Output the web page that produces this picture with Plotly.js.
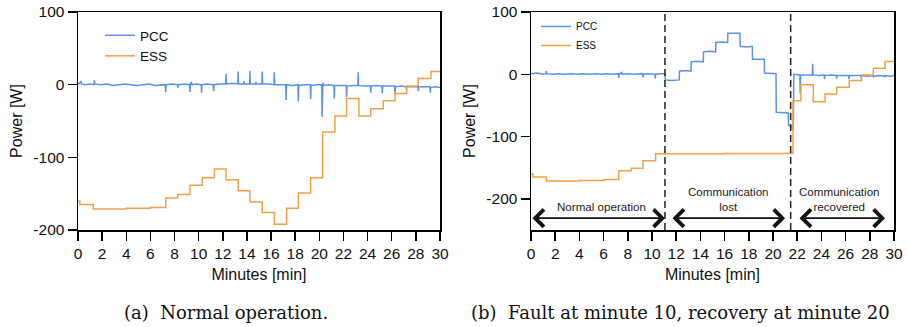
<!DOCTYPE html>
<html><head><meta charset="utf-8">
<script src="https://cdn.plot.ly/plotly-3.0.1.min.js"></script>
<style>html,body{margin:0;padding:0;background:#fff}#chart{width:907px;height:327px}</style>
</head><body><div id="chart"></div>
<script>
// ---------- data (minutes, watts) ----------
const xTicks = [0,2,4,6,8,10,12,14,16,18,20,22,24,26,28,30];
const yTicksA = [-200,-100,0,100];
const yTicksB = [-200,-100,0,100];
const seriesNames = ['PCC','ESS'];

// (a) Normal operation
const pccA = [[0,2],[0.1,1],[0.25,5],[0.3,1],[0.6,0],[1.0,1],[1.33,0],[1.36,6],[1.4,1],[1.9,0],[2.4,1],[2.9,-1],[3.4,0],[3.9,1],[4.4,0],[4.9,-1],[5.4,0],[5.9,1],[6.4,-1],[6.9,0],[7.24,0],[7.27,-10],[7.3,0],[7.8,1],[8.26,0],[8.28,-4],[8.31,0],[8.8,1],[9.25,0],[9.28,-10],[9.31,1],[9.4,4],[9.44,0],[9.8,1],[10.21,0],[10.24,-11],[10.27,0],[10.7,1],[11.22,0],[11.25,-9],[11.28,0],[11.8,1],[12.24,1],[12.27,15],[12.3,1],[12.8,2],[13.24,1],[13.27,18],[13.3,1],[13.72,1],[13.75,5],[13.78,1],[14.22,1],[14.25,19],[14.28,1],[14.72,1],[14.75,4],[14.78,1],[15.24,1],[15.27,18],[15.3,1],[15.8,1],[16.24,0],[16.27,17],[16.3,0],[16.8,0],[17.22,0],[17.25,-21],[17.28,0],[17.8,-1],[18.23,0],[18.26,-23],[18.29,-1],[18.8,0],[19.25,0],[19.28,-20],[19.31,-1],[19.8,0],[20.2,0],[20.23,-44],[20.26,-1],[20.3,3],[20.33,-1],[20.8,0],[21.21,-1],[21.24,-19],[21.27,-1],[21.8,-1],[22.23,-1],[22.26,-17],[22.29,-2],[22.8,-1],[23.19,-1],[23.22,17],[23.25,-1],[23.7,-2],[24.23,-2],[24.26,-11],[24.29,-2],[24.7,-1],[25.19,-2],[25.22,-12],[25.25,-2],[25.7,-2],[26.24,-2],[26.27,-14],[26.3,-3],[26.8,-2],[27.19,-3],[27.22,-6],[27.25,-3],[27.7,-3],[28.17,-3],[28.2,-9],[28.23,-3],[28.7,-3],[29.17,-3],[29.2,-11],[29.23,-4],[29.6,-3],[30,-4]];
const essA = [[0,-160],[0.15,-165],[1.27,-171],[4,-170],[6,-169],[7.27,-156],[8.27,-151],[9.28,-138.5],[10.3,-128],[11.3,-116],[12.27,-131],[13.28,-146],[14.25,-161.5],[15.27,-176],[16.27,-192],[17.29,-170],[18.26,-149],[19.28,-128],[20.28,-65],[21.29,-43],[22.26,-19],[23.28,-43],[24.26,-33],[25.3,-22],[26.27,-12],[27.24,-2],[28.2,8.5],[29.25,18],[30,18]];

// (b) Fault at minute 10, recovery at minute 20
const pccB = [[0,1],[0.5,2],[1.0,0],[1.24,1],[1.27,5],[1.3,1],[1.8,0],[2.3,1],[2.8,0],[3.3,1],[3.8,0],[4.3,1],[4.8,0],[5.3,1],[5.8,0],[6.3,1],[6.8,0],[7.22,1],[7.25,-6],[7.28,0],[7.5,3],[7.53,0],[8.0,1],[8.5,0],[9.23,1],[9.26,-5],[9.29,0],[9.7,1],[10.24,0],[10.27,-7],[10.3,0],[10.7,1],[11.07,1],[11.1,-9],[11.6,-10],[12.25,-9],[12.27,5],[12.8,6],[13.22,5],[13.24,20],[13.7,21],[14.24,20],[14.26,36],[14.8,37],[15.26,36],[15.28,51],[15.8,52],[16.25,51],[16.27,66],[16.8,66],[17.27,66],[17.29,45],[17.8,44],[18.29,45],[18.31,24],[18.8,24],[19.28,24],[19.3,2],[19.8,2],[20.25,1],[20.27,-61],[20.8,-62],[21.26,-62],[21.28,-82],[21.55,-84],[21.62,-89],[21.68,-86],[21.72,0],[22.22,-1],[22.25,-30],[22.28,-1],[22.8,-1],[23.25,-1],[23.28,17],[23.31,-1],[23.8,-2],[24.23,-1],[24.26,-8],[24.29,-2],[24.8,-1],[25.23,-2],[25.26,-7],[25.29,-2],[25.8,-2],[26.25,-2],[26.28,-8],[26.31,-2],[26.8,-2],[27.25,-2],[27.28,-6],[27.31,-2],[27.8,-3],[28.27,-2],[28.3,-5],[28.33,-3],[28.8,-2],[29.23,-3],[29.26,-5],[29.29,-2],[29.7,-3],[30,-2]];
const essB = [[0,-160],[0.15,-165],[1.27,-171.5],[4,-170.5],[6,-169],[7.25,-155],[8.29,-151],[9.26,-139],[10.3,-127.5],[16,-127],[21.65,-42.5],[22.31,-17],[23.33,-44],[24.3,-31.5],[25.26,-21],[26.3,-10],[27.32,-1],[28.29,9.5],[29.26,20.5],[30,20.5]];

const eventTimes = [11.07, 21.46];
const phaseLabels = ['Normal operation','Communication<br>lost','Communication<br>recovered'];
const phaseStart = [0, 11.57, 22.07];
const phaseEnd = [11.07, 21.0, 29.26];
const phaseLevel = -231;
const captions = ['(a)  Normal operation.','(b)  Fault at minute 10, recovery at minute 20'];

// ---------- styling ----------
const SANS = "Arial, 'Liberation Sans', sans-serif";
const SERIF = "'DejaVu Serif', serif";
const COL = {PCC:'#5b93f0', ESS:'#f5a047'};
const W = 907, H = 327;

function mk(pairs, name, xa, ya, lg, shape){
  return {x: pairs.map(p=>p[0]), y: pairs.map(p=>p[1]), name: name, type:'scatter', mode:'lines',
    xaxis: xa, yaxis: ya, legend: lg, line:{color: COL[name], width:1.5, shape: shape}, hoverinfo:'skip'};
}
const traces = [
  mk(pccA, seriesNames[0], 'x', 'y', 'legend', 'linear'),
  mk(essA, seriesNames[1], 'x', 'y', 'legend', 'hv'),
  mk(pccB, seriesNames[0], 'x2', 'y2', 'legend2', 'linear'),
  mk(essB, seriesNames[1], 'x2', 'y2', 'legend2', 'hv')
];

function xax(dom, anchor){
  return {domain: dom, anchor: anchor, range:[0,30], tickvals: xTicks, ticktext: xTicks.map(String),
    ticks:'outside', ticklen:9, tickwidth:1.5, tickcolor:'#000', showline:true, linecolor:'#000', linewidth:1.5,
    mirror:true, showgrid:false, zeroline:false, automargin:false, fixedrange:true,
    tickfont:{family:SANS, size:15.5, color:'#111'},
    title:{text:'Minutes [min]', font:{family:SANS, size:16, color:'#111'}, standoff:7}};
}
function yax(range, ticks, dom, anchor){
  return {domain: dom, anchor: anchor, range: range, tickvals: ticks, ticktext: ticks.map(String),
    ticks:'outside', ticklen:9, tickwidth:1.5, tickcolor:'#000', showline:true, linecolor:'#000', linewidth:1.5,
    mirror:true, showgrid:false, zeroline:false, automargin:false, fixedrange:true,
    tickfont:{family:SANS, size:15.5, color:'#111'},
    title:{text:'Power [W]', font:{family:SANS, size:16, color:'#111'}, standoff:7}};
}
const yDom = [1-230/H, 1-12/H];

const shapes = eventTimes.map(t => ({type:'line', xref:'x2', yref:'y2 domain', x0:t, x1:t, y0:0, y1:1,
  line:{color:'#222', width:1.5, dash:'7px,4px'}}));

const annotations = [];
phaseLabels.forEach((lab, i) => {
  annotations.push({xref:'x2', yref:'y2', x: phaseEnd[i], y: phaseLevel, ax: phaseStart[i], ay: phaseLevel,
    axref:'x2', ayref:'y2', text:'', showarrow:true, arrowside:'end+start', arrowhead:4, startarrowhead:4,
    arrowsize:2.1, startarrowsize:2.1, arrowwidth:1.6, arrowcolor:'#111', standoff:0, startstandoff:0});
  annotations.push({xref:'x2', yref:'y2', x:(phaseStart[i]+phaseEnd[i])/2, y: phaseLevel, text: lab,
    showarrow:false, yanchor:'bottom', xanchor:'center', yshift:3, xshift: i===0?4:(i===2?-2:0),
    font:{family:SANS, size:11.6, color:'#222'}});
});
annotations.push({xref:'paper', yref:'paper', x:226/W, y:1-312/H, xanchor:'center', yanchor:'middle',
  text:captions[0], showarrow:false, font:{family:SERIF, size:18, color:'#111'}});
annotations.push({xref:'paper', yref:'paper', x:680/W, y:1-312/H, xanchor:'center', yanchor:'middle',
  text:captions[1], showarrow:false, font:{family:SERIF, size:18, color:'#111'}});

const layout = {
  width: W, height: H, margin:{l:0,r:0,t:0,b:0}, paper_bgcolor:'#fff', plot_bgcolor:'#fff',
  showlegend:true,
  xaxis: xax([78/W, 440/W], 'y'),
  yaxis: yax([-200,100], yTicksA, yDom, 'x'),
  xaxis2: xax([531/W, 894/W], 'y2'),
  yaxis2: yax([-250,100], yTicksB, yDom, 'x2'),
  legend:{x:100/W, y:1-20/H, xanchor:'left', yanchor:'top', bgcolor:'rgba(0,0,0,0)', borderwidth:0,
    font:{family:SANS, size:13.5, color:'#111'}},
  legend2:{x:536/W, y:1-12/H, xanchor:'left', yanchor:'top', bgcolor:'rgba(0,0,0,0)', borderwidth:0,
    font:{family:SANS, size:10, color:'#111'}},
  shapes: shapes,
  annotations: annotations
};
Plotly.newPlot('chart', traces, layout, {staticPlot:true, displayModeBar:false});
</script>
</body></html>
